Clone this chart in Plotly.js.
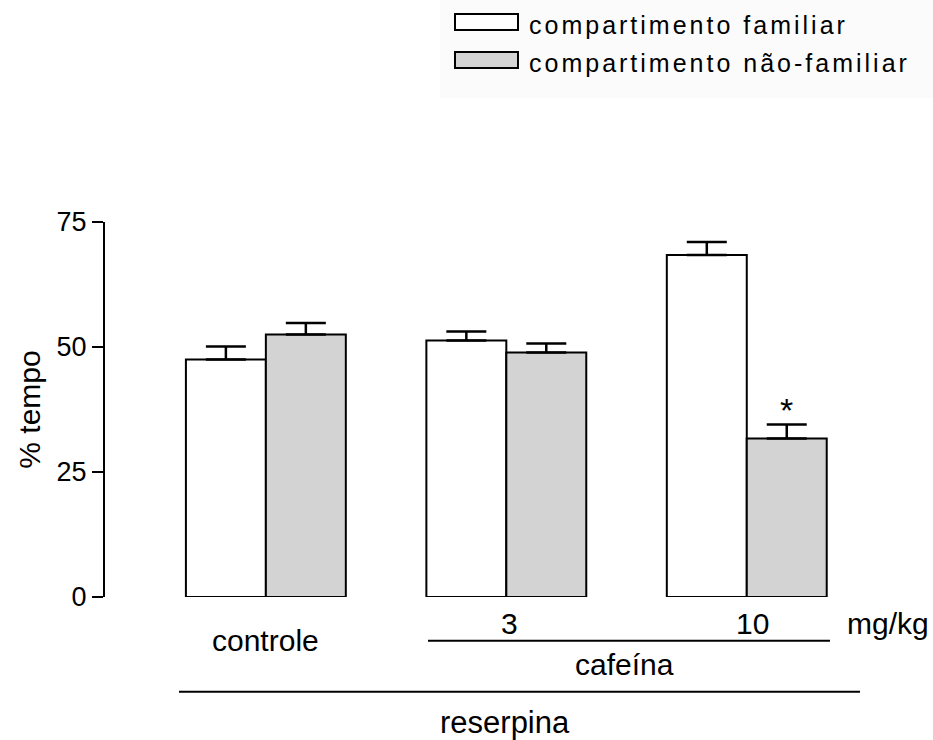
<!DOCTYPE html>
<html>
<head>
<meta charset="utf-8">
<script src="https://cdn.plot.ly/plotly-3.0.1.min.js"></script>
<style>
  html, body { margin: 0; padding: 0; background: #fff; }
  #chart { width: 933px; height: 740px; }
  /* legend-like labels use wide tracking (applied before Plotly measures text) */
  text.annotation-text[style*="font-size: 25px"] { letter-spacing: 3px; }
</style>
</head>
<body>
<div id="chart"></div>
<script>
// ---- data ----
var groups = ["controle", "3", "10"];
var familiarName = "compartimento familiar";
var naoFamiliarName = "compartimento não-familiar";
var familiarMean = [47.5, 51.3, 68.4];
var familiarSem = [2.6, 1.8, 2.6];
var naoFamiliarMean = [52.5, 48.9, 31.7];
var naoFamiliarSem = [2.3, 1.8, 2.8];
var yTicks = [0, 25, 50, 75];
var doseUnit = "mg/kg";
var drugLabel = "cafeína";
var pretreatLabel = "reserpina";
var significance = ["", "", "*"];

// ---- geometry helpers (layout only) ----
var W = 933, H = 740;
var M = {l: 105, r: 66, t: 222, b: 143};
var PW = W - M.l - M.r, PH = H - M.t - M.b;
function px(xPix) { return (xPix - M.l) / PW; }
function py(yPix) { return (H - M.b - yPix) / PH; }

var FONT = "Liberation Sans, Arial, Helvetica, sans-serif";
var LBL = {family: FONT, size: 30, color: "#000"};
var LEG = {family: FONT, size: 25, color: "#000"};

var traces = [
  {
    type: "bar", name: familiarName, x: groups, y: familiarMean,
    marker: {color: "#ffffff", line: {color: "#000", width: 2}},
    error_y: {type: "data", symmetric: false, array: familiarSem,
              arrayminus: familiarSem.map(function(){return 0;}),
              color: "#000", thickness: 2.5, width: 20},
    showlegend: false
  },
  {
    type: "bar", name: naoFamiliarName, x: groups, y: naoFamiliarMean,
    marker: {color: "#d3d3d3", line: {color: "#000", width: 2}},
    error_y: {type: "data", symmetric: false, array: naoFamiliarSem,
              arrayminus: naoFamiliarSem.map(function(){return 0;}),
              color: "#000", thickness: 2.5, width: 20},
    showlegend: false
  }
];

var annotations = [];
// group labels under the axis (x given as category index)
annotations.push({x: 0, xref: "x", y: py(640), yref: "paper", text: groups[0],
  showarrow: false, xanchor: "center", yanchor: "middle", font: LBL});
annotations.push({x: 1, xref: "x", y: py(623), yref: "paper", text: groups[1], xshift: 3,
  showarrow: false, xanchor: "center", yanchor: "middle", font: LBL});
annotations.push({x: 2, xref: "x", y: py(623), yref: "paper", text: groups[2], xshift: 6,
  showarrow: false, xanchor: "center", yanchor: "middle", font: LBL});
annotations.push({x: px(845), xref: "paper", y: py(623), yref: "paper", text: doseUnit,
  showarrow: false, xanchor: "left", yanchor: "middle", font: LBL});
annotations.push({x: px(624), xref: "paper", y: py(664.5), yref: "paper", text: drugLabel,
  showarrow: false, xanchor: "center", yanchor: "middle", font: LBL});
annotations.push({x: px(505), xref: "paper", y: py(722), yref: "paper", text: pretreatLabel,
  showarrow: false, xanchor: "center", yanchor: "middle", font: {family: FONT, size: 31, color: "#000"}});
// significance marks
for (var i = 0; i < groups.length; i++) {
  if (significance[i]) {
    annotations.push({x: i, xref: "x", xshift: 40,
      y: naoFamiliarMean[i] + naoFamiliarSem[i], yref: "y", yanchor: "bottom", yshift: -6,
      text: significance[i], showarrow: false, font: {family: FONT, size: 34, color: "#000"}});
  }
}
// legend texts
annotations.push({x: px(527), xref: "paper", y: py(24.6), yref: "paper", text: familiarName,
  showarrow: false, xanchor: "left", yanchor: "middle", font: LEG});
annotations.push({x: px(527), xref: "paper", y: py(62.6), yref: "paper", text: naoFamiliarName,
  showarrow: false, xanchor: "left", yanchor: "middle", font: LEG});

var shapes = [
  // legend background
  {type: "rect", xref: "paper", yref: "paper", x0: px(440), x1: px(933), y0: py(98), y1: py(0),
   fillcolor: "#fbfbfb", line: {width: 0}, layer: "below"},
  // legend swatches
  {type: "rect", xref: "paper", yref: "paper", x0: px(455), x1: px(518), y0: py(30), y1: py(14),
   fillcolor: "#ffffff", line: {color: "#000", width: 2}},
  {type: "rect", xref: "paper", yref: "paper", x0: px(455), x1: px(518), y0: py(68), y1: py(52),
   fillcolor: "#d3d3d3", line: {color: "#000", width: 2}},
  // bracket lines
  {type: "line", xref: "paper", yref: "paper", x0: px(428), x1: px(830), y0: py(640.7), y1: py(640.7),
   line: {color: "#000", width: 2}},
  {type: "line", xref: "paper", yref: "paper", x0: px(179), x1: px(860), y0: py(691.7), y1: py(691.7),
   line: {color: "#000", width: 2}}
];

var layout = {
  width: W, height: H,
  margin: M,
  paper_bgcolor: "#ffffff", plot_bgcolor: "rgba(0,0,0,0)",
  barmode: "group", bargap: 0.335, bargroupgap: 0,
  showlegend: false,
  font: {family: FONT, size: 26, color: "#000"},
  xaxis: {
    type: "category", range: [-0.669, 2.5], fixedrange: true,
    showticklabels: false, ticks: "", showline: false, showgrid: false, zeroline: false
  },
  yaxis: {
    range: [0, 75], tickvals: yTicks, ticktext: yTicks.map(String),
    showline: true, linecolor: "#000", linewidth: 2,
    ticks: "outside", ticklen: 11, tickwidth: 2, tickcolor: "#000",
    ticklabelstandoff: 0,
    showgrid: false, zeroline: false,
    tickfont: {family: FONT, size: 27, color: "#000"},
    title: {text: "% tempo", standoff: 7, font: {family: FONT, size: 30, color: "#000"}}
  },
  annotations: annotations,
  shapes: shapes
};

Plotly.newPlot("chart", traces, layout, {displayModeBar: false, staticPlot: true});
</script>
</body>
</html>
